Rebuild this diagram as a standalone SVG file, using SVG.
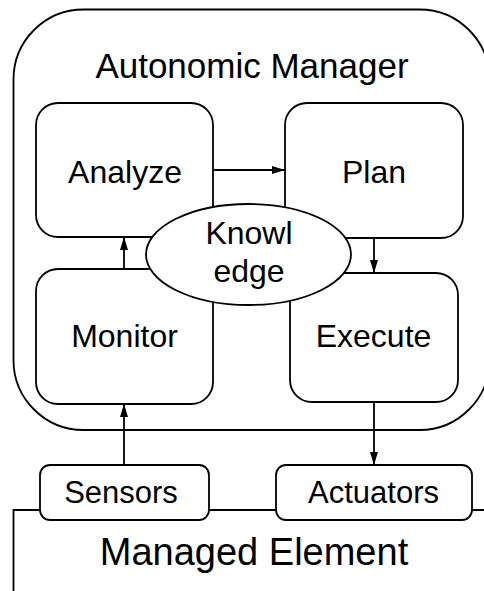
<svg xmlns="http://www.w3.org/2000/svg" width="484" height="591" viewBox="0 0 484 591">
<style>
.box{fill:#fff;stroke:#000;stroke-width:1.8}
.ln{fill:none;stroke:#000;stroke-width:1.8}
text{font-family:"Liberation Sans",Arial,sans-serif;fill:#000;text-anchor:middle}
</style>
<defs>
<marker id="ah" markerWidth="13" markerHeight="8" refX="13" refY="4" orient="auto" markerUnits="userSpaceOnUse">
<path d="M0,0 L13,4 L0,8 Z" fill="#000"/>
</marker>
</defs>
<rect width="484" height="591" fill="#fff"/>
<g id="managed-element">
<path class="ln" d="M13.5,591 V510 H490"/>
<text x="254" y="565" font-size="38">Managed Element</text>
</g>
<g id="autonomic-manager">
<rect class="box" x="13.5" y="9.5" width="476" height="420.5" rx="70" ry="70"/>
<text x="252" y="78" font-size="35">Autonomic Manager</text>
</g>
<g id="analyze">
<rect class="box" x="36" y="103" width="177" height="134" rx="22"/>
<text x="125" y="183" font-size="32">Analyze</text>
</g>
<g id="plan">
<rect class="box" x="285" y="103" width="178" height="135" rx="22"/>
<text x="374" y="183" font-size="32">Plan</text>
</g>
<g id="monitor">
<rect class="box" x="36" y="269" width="177" height="135" rx="22"/>
<text x="124.5" y="347" font-size="32">Monitor</text>
</g>
<g id="execute">
<rect class="box" x="290" y="273" width="168" height="129" rx="22"/>
<text x="373.5" y="347" font-size="32">Execute</text>
</g>
<g id="knowledge">
<ellipse class="box" cx="248.5" cy="254.5" rx="102.5" ry="50.5"/>
<text x="249" y="244" font-size="32">Knowl</text>
<text x="249" y="282" font-size="32">edge</text>
</g>
<g id="sensors">
<rect class="box" x="40" y="465" width="169" height="55" rx="10"/>
<text x="121" y="503" font-size="31">Sensors</text>
</g>
<g id="actuators">
<rect class="box" x="276" y="465" width="196" height="55" rx="10"/>
<text x="373.5" y="503" font-size="31">Actuators</text>
</g>
<g id="connectors">
<line class="ln" x1="213" y1="170" x2="285" y2="170" marker-end="url(#ah)"/>
<line class="ln" x1="124" y1="269" x2="124" y2="237" marker-end="url(#ah)"/>
<line class="ln" x1="374" y1="238" x2="374" y2="273" marker-end="url(#ah)"/>
<line class="ln" x1="124" y1="465" x2="124" y2="404" marker-end="url(#ah)"/>
<line class="ln" x1="374" y1="402" x2="374" y2="465" marker-end="url(#ah)"/>
</g>
</svg>
